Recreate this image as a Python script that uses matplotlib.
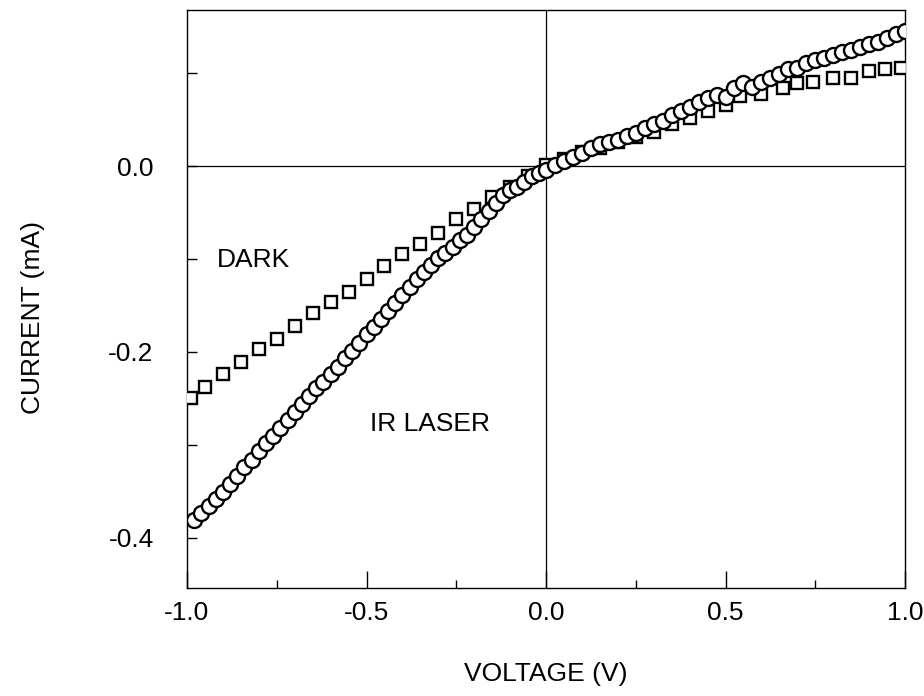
import matplotlib
matplotlib.use("Agg")
import matplotlib.pyplot as plt
from matplotlib.ticker import MultipleLocator

# condensed look if available, otherwise plain Liberation Sans
plt.rcParams['font.family'] = ['Liberation Sans Narrow', 'Liberation Sans', 'DejaVu Sans']
plt.rcParams['font.stretch'] = 'condensed'
FS = 19

# IR laser curve (circles), voltage in V, current in mA
ir_volt = [-0.98, -0.96, -0.94, -0.92, -0.90, -0.88, -0.86, -0.84, -0.82, -0.80,
           -0.78, -0.76, -0.74, -0.72, -0.70, -0.68, -0.66, -0.64, -0.62, -0.60,
           -0.58, -0.56, -0.54, -0.52, -0.50, -0.48, -0.46, -0.44, -0.42, -0.40,
           -0.38, -0.36, -0.34, -0.32, -0.30, -0.28, -0.26, -0.24, -0.22, -0.20,
           -0.18, -0.16, -0.14, -0.12, -0.10, -0.08, -0.06, -0.04, -0.02,
           0.000, 0.025, 0.050, 0.075, 0.100, 0.125, 0.150, 0.175, 0.200, 0.225,
           0.250, 0.275, 0.300, 0.325, 0.350, 0.375, 0.400, 0.425, 0.450, 0.475,
           0.500, 0.525, 0.550, 0.575, 0.600, 0.625, 0.650, 0.675, 0.700, 0.725,
           0.750, 0.775, 0.800, 0.825, 0.850, 0.875, 0.900, 0.925, 0.950, 0.975, 1.000]
ir_curr = [-0.381, -0.373, -0.366, -0.358, -0.351, -0.342, -0.333, -0.324, -0.316, -0.307,
           -0.298, -0.290, -0.282, -0.273, -0.265, -0.256, -0.247, -0.239, -0.232, -0.224,
           -0.216, -0.207, -0.199, -0.190, -0.181, -0.173, -0.164, -0.156, -0.147, -0.139,
           -0.130, -0.122, -0.114, -0.106, -0.099, -0.094, -0.087, -0.080, -0.074, -0.066,
           -0.057, -0.048, -0.040, -0.031, -0.026, -0.022, -0.017, -0.011, -0.007,
           -0.004, 0.001, 0.006, 0.010, 0.014, 0.019, 0.024, 0.026, 0.028, 0.032,
           0.036, 0.041, 0.045, 0.049, 0.055, 0.059, 0.064, 0.069, 0.073, 0.076,
           0.074, 0.084, 0.089, 0.085, 0.091, 0.095, 0.099, 0.104, 0.106, 0.111,
           0.114, 0.116, 0.120, 0.123, 0.125, 0.128, 0.131, 0.134, 0.138, 0.142, 0.145]

# dark curve (squares)
dark_volt = [-0.99, -0.95, -0.90, -0.85, -0.80, -0.75, -0.70, -0.65, -0.60, -0.55,
             -0.50, -0.45, -0.40, -0.35, -0.30, -0.25, -0.20, -0.15, -0.10, -0.05,
             0.00, 0.05, 0.10, 0.15, 0.20, 0.25, 0.30, 0.35, 0.40, 0.45,
             0.50, 0.54, 0.60, 0.66, 0.70, 0.745, 0.80, 0.85, 0.90, 0.945, 0.99]
dark_curr = [-0.249, -0.238, -0.224, -0.211, -0.197, -0.186, -0.172, -0.158, -0.146, -0.135,
             -0.122, -0.108, -0.095, -0.084, -0.072, -0.057, -0.046, -0.033, -0.022, -0.011,
             0.001, 0.008, 0.015, 0.020, 0.026, 0.031, 0.037, 0.045, 0.052, 0.059,
             0.066, 0.075, 0.078, 0.084, 0.089, 0.091, 0.095, 0.095, 0.102, 0.105, 0.106]

fig = plt.figure(figsize=(9.24, 6.96), dpi=100)
ax = fig.add_axes([187/924, 1 - 588/696, (905-187)/924, (588-10)/696])

ax.axhline(0, color="black", lw=0.9, zorder=1)
ax.axvline(0, color="black", lw=0.9, zorder=1)

ax.plot(dark_volt, dark_curr, ls="none", marker="s", ms=8.5, mfc="white",
        mec="black", mew=1.7, zorder=3)
ax.plot(ir_volt, ir_curr, ls="none", marker="o", ms=10.8, mfc="white",
        mec="black", mew=1.7, zorder=4)

ax.set_xlim(-1.0, 1.0)
ax.set_ylim(-0.454, 0.168)

ax.xaxis.set_major_locator(MultipleLocator(0.5))
ax.xaxis.set_minor_locator(MultipleLocator(0.25))
ax.yaxis.set_major_locator(MultipleLocator(0.2))
ax.yaxis.set_minor_locator(MultipleLocator(0.1))
ax.xaxis.set_major_formatter(lambda v, p: f"{v:.1f}")
ax.yaxis.set_major_formatter(lambda v, p: f"{v:.1f}")

ax.tick_params(axis="x", which="major", direction="in", length=12, width=1, pad=9, labelsize=FS)
ax.tick_params(axis="x", which="minor", direction="in", length=6, width=1)
ax.tick_params(axis="y", which="both", direction="in", length=7, width=1, pad=24, labelsize=FS)

for s in ax.spines.values():
    s.set_linewidth(1.0)

ax.text(-0.916, -0.101, "DARK", fontsize=FS, ha="left", va="center")
ax.text(-0.49, -0.278, "IR LASER", fontsize=FS, ha="left", va="center")

fig.text(546/924, 1 - 674/696, "VOLTAGE (V)", fontsize=FS, ha="center", va="center")
fig.text(33/924, 1 - 318/696, "CURRENT (mA)", fontsize=FS, ha="center", va="center",
         rotation=90)

fig.savefig("out.png", dpi=100)
